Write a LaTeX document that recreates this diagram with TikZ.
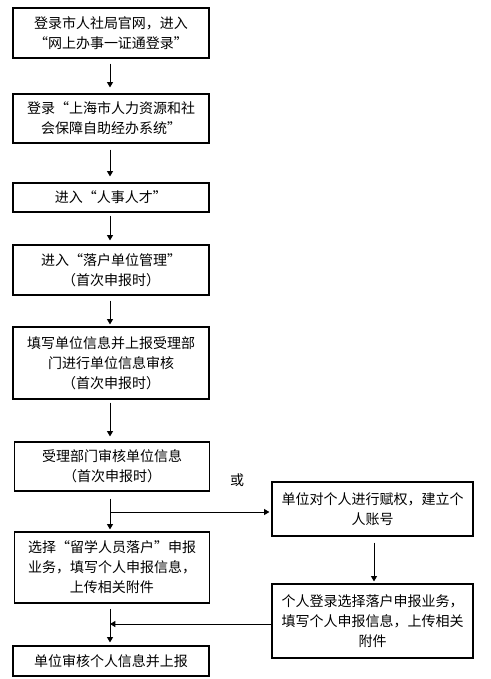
\documentclass[tikz,border=0pt]{standalone}
\usepackage{fontspec}
\setmainfont{Noto Sans CJK SC}
\usetikzlibrary{arrows.meta}
\tikzset{
  box/.style={draw, line width=0.9pt, rectangle, align=center, inner sep=0pt,
    font=\fontsize{10.5pt}{15pt}\selectfont},
  arr/.style={line width=0.75pt, -{Triangle[length=4pt,width=4.5pt]}},
  ln/.style={line width=0.75pt}
}
\begin{document}
\begin{tikzpicture}[x=0.75pt,y=-0.75pt]
\useasboundingbox (0,0) rectangle (490,679);
% left column
\node[box, minimum width=147pt, minimum height=37.5pt] (b1) at (111,33)
  {登录市人社局官网，进入\\“网上办事一证通登录”};
\node[box, minimum width=147pt, minimum height=36.75pt] (b2) at (111,118.5)
  {登录“上海市人力资源和社\\会保障自助经办系统”};
\node[box, minimum width=147pt, minimum height=21.75pt] (b3) at (111,197.5)
  {进入“人事人才”};
\node[box, minimum width=147pt, minimum height=37.5pt] (b4) at (111,270)
  {进入“落户单位管理”\\（首次申报时）};
\node[box, minimum width=147pt, minimum height=54pt] (b5) at (111,363)
  {填写单位信息并上报受理部\\门进行单位信息审核\\（首次申报时）};
\node[box, minimum width=146pt, minimum height=36.75pt] (b6) at (112,466.5)
  {受理部门审核单位信息\\（首次申报时）};
\node[box, minimum width=146pt, minimum height=53.25pt] (b7) at (112,567.5)
  {选择“留学人员落户”申报\\业务，填写个人申报信息，\\上传相关附件};
\node[box, minimum width=147pt, minimum height=22.5pt] (b8) at (111,661)
  {单位审核个人信息并上报};
% right column
\node[box, minimum width=150.75pt, minimum height=40.5pt] (r1) at (372.5,509)
  {单位对个人进行赋权，建立个\\人账号};
\node[box, minimum width=150.75pt, minimum height=55.5pt] (r2) at (372.5,621)
  {个人登录选择落户申报业务，\\填写个人申报信息，上传相关\\附件};
\node[font=\fontsize{10.5pt}{15pt}\selectfont] (or) at (237,480) {或};
% connectors
\draw[arr, shorten <=3.75pt, shorten >=4.5pt] (b1.south -| 110,0) -- (b2.north -| 110,0);
\draw[arr, shorten <=4.5pt, shorten >=4.5pt] (b2.south -| 110,0) -- (b3.north -| 110,0);
\draw[arr, shorten <=2.25pt, shorten >=3pt] (b3.south -| 110,0) -- (b4.north -| 110,0);
\draw[arr, shorten <=3.75pt, shorten >=1.5pt] (b4.south -| 110,0) -- (b5.north -| 110,0);
\draw[arr, shorten <=2.25pt, shorten >=3.75pt] (b5.south -| 110,0) -- (b6.north -| 110,0);
\draw[arr, shorten <=5.25pt, shorten >=1.5pt] (b6.south -| 110,0) -- (b7.north -| 110,0);
\coordinate (br) at (110,512);
\draw[arr, shorten >=1.5pt] (br) -- (br -| r1.west);
\draw[arr, shorten <=4.5pt, shorten >=1.5pt] (r1.south -| 374,0) -- (r2.north -| 374,0);
\draw[arr, shorten <=3.75pt, shorten >=2.25pt] (b7.south -| 110,0) -- (b8.north -| 110,0);
\coordinate (mg) at (110,624);
\draw[arr] (r2.west |- mg) -- (mg);
\end{tikzpicture}
\end{document}
